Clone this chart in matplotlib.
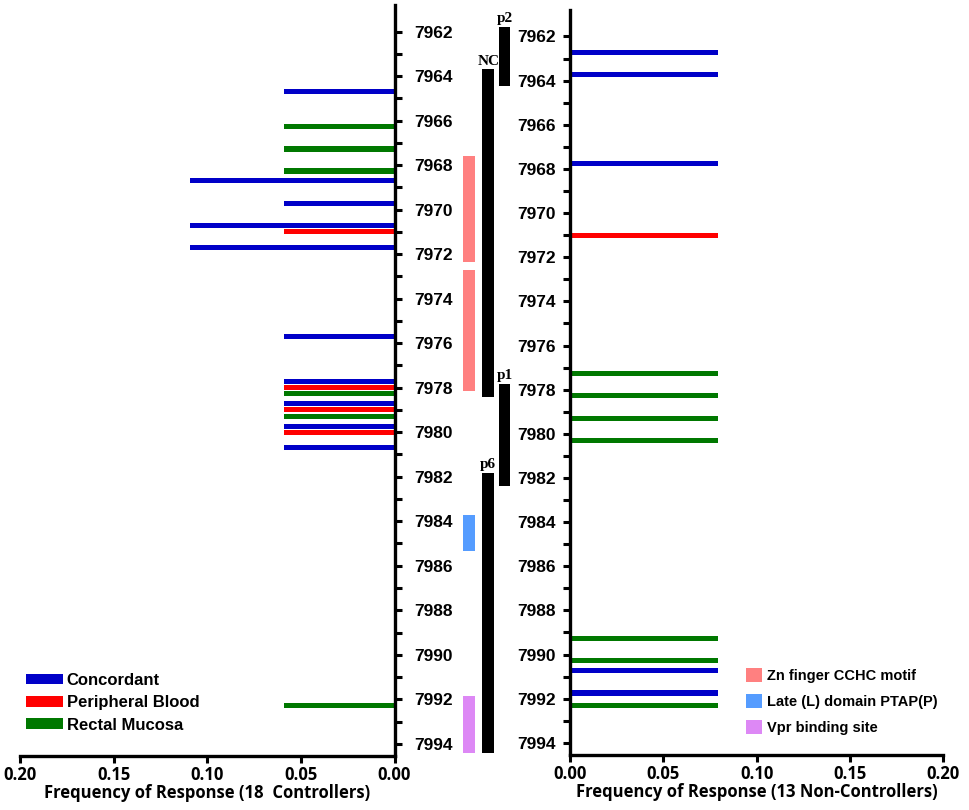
import matplotlib.pyplot as plt
from matplotlib.patches import Patch

# positions along the genome and frequency of response
ctrl_conc_pos = [7964.7, 7968.7, 7969.72, 7970.69, 7971.69, 7975.71, 7977.71, 7978.71, 7979.73, 7980.7]
ctrl_conc_freq = [0.059, 0.109, 0.059, 0.109, 0.109, 0.059, 0.059, 0.059, 0.059, 0.059]
ctrl_pb_pos = [7970.99, 7977.98, 7978.98, 7980.0]
ctrl_pb_freq = [0.059, 0.059, 0.059, 0.059]
ctrl_rm_pos = [7966.27, 7967.27, 7968.26, 7978.26, 7979.28, 7992.27]
ctrl_rm_freq = [0.059, 0.059, 0.059, 0.059, 0.059, 0.059]

nonc_conc_pos = [7962.71, 7963.72, 7967.75, 7990.73, 7991.74]
nonc_conc_freq = [0.0795, 0.0795, 0.0795, 0.0795, 0.0795]
nonc_pb_pos = [7971.0]
nonc_pb_freq = [0.0795]
nonc_rm_pos = [7977.28, 7978.28, 7979.3, 7980.31, 7989.27, 7990.28, 7992.3]
nonc_rm_freq = [0.0795, 0.0795, 0.0795, 0.0795, 0.0795, 0.0795, 0.0795]

# protein / motif regions (start, end)
protein_names = ["NC", "p2", "p1", "p6"]
protein_start = [7963.69, 7961.8, 7977.84, 7981.81]
protein_end = [7978.41, 7964.44, 7982.43, 7994.4]

motif_names = ["Zn finger CCHC motif", "Zn finger CCHC motif", "Late (L) domain PTAP(P)", "Vpr binding site"]
motif_start = [7967.6, 7972.71, 7983.7, 7991.86]
motif_end = [7972.36, 7978.14, 7985.35, 7994.4]

group_names = ["Concordant", "Peripheral Blood", "Rectal Mucosa"]
legend_motifs = ["Zn finger CCHC motif", "Late (L) domain PTAP(P)", "Vpr binding site"]

xticks = [0.0, 0.05, 0.10, 0.15, 0.20]
xticklabels = ["0.00", "0.05", "0.10", "0.15", "0.20"]
yticks = list(range(7962, 7995))

c_conc = "#0000C8"
c_pb = "#FF0000"
c_rm = "#007800"
motif_colors = {"Zn finger CCHC motif": "#FF8080",
                "Late (L) domain PTAP(P)": "#559CFF",
                "Vpr binding site": "#DD88F5"}

W, H = 969, 810
fig = plt.figure(figsize=(W / 100, H / 100), dpi=100)

def px(x0, y0, x1, y1):
    return [x0 / W, 1 - y1 / H, (x1 - x0) / W, (y1 - y0) / H]

ax_l = fig.add_axes(px(20, 5, 394.5, 756))
ax_r = fig.add_axes(px(570, 10, 943.3, 755))
ax_m = fig.add_axes(px(455, 5, 520, 756))

ylim = (7994.55, 7960.8)
bh = 0.23

ax_l.barh(ctrl_conc_pos, ctrl_conc_freq, height=bh, color=c_conc)
ax_l.barh(ctrl_rm_pos, ctrl_rm_freq, height=bh, color=c_rm)
ax_l.barh(ctrl_pb_pos, ctrl_pb_freq, height=bh, color=c_pb)

ax_r.barh(nonc_conc_pos, nonc_conc_freq, height=bh, color=c_conc)
ax_r.barh(nonc_rm_pos, nonc_rm_freq, height=bh, color=c_rm)
ax_r.barh(nonc_pb_pos, nonc_pb_freq, height=bh, color=c_pb)

tick_font = dict(family="Liberation Sans", weight="bold", size=12.5)
xfont = dict(family="Open Sans", weight="bold", size=12)

for ax, side in [(ax_l, "right"), (ax_r, "left")]:
    ax.set_ylim(ylim)
    for s in ax.spines.values():
        s.set_visible(False)
    ax.spines[side].set_visible(True)
    ax.spines["bottom"].set_visible(True)
    ax.spines[side].set_linewidth(2.4)
    ax.spines["bottom"].set_linewidth(2.4)
    ax.set_yticks(yticks)
    ax.set_yticklabels([str(t) if t % 2 == 0 else "" for t in yticks], fontdict=tick_font)
    ax.set_xticks(xticks)
    ax.set_xticklabels(xticklabels, fontdict=xfont)
    ax.tick_params(axis="both", direction="out", length=5, width=2.2)
    ax.tick_params(axis="x", pad=2)

ax_l.set_xlim(0.2, 0)
ax_l.yaxis.tick_right()
ax_l.tick_params(axis="y", pad=9)
ax_r.set_xlim(0, 0.2)
ax_r.tick_params(axis="y", pad=5)

ax_l.set_xlabel("Frequency of Response (18  Controllers)", fontdict=xfont, labelpad=0)
ax_r.set_xlabel("Frequency of Response (13 Non-Controllers)", fontdict=xfont, labelpad=0)

# middle column: motifs and protein regions
ax_m.set_ylim(ylim)
ax_m.set_xlim(0, 65)
ax_m.axis("off")
motif_x = 14.2
protein_x = {"NC": 33.2, "p6": 33.2, "p2": 49.6, "p1": 49.6}
for name, a, b in zip(motif_names, motif_start, motif_end):
    ax_m.bar(motif_x, b - a, bottom=a, width=11.5, color=motif_colors[name])
for name, a, b in zip(protein_names, protein_start, protein_end):
    ax_m.bar(protein_x[name], b - a, bottom=a, width=11.5, color="black")
    ax_m.text(protein_x[name], a - 0.08, name, ha="center", va="bottom",
              family="Liberation Serif", weight="bold", size=11)

leg_font = dict(family="Liberation Sans", weight="bold", size=12)
handles = [Patch(facecolor=c, edgecolor="none") for c in [c_conc, c_pb, c_rm]]
ax_l.legend(handles, group_names, loc="upper left", bbox_to_anchor=(26 / W, 1 - 673 / H),
            bbox_transform=fig.transFigure, frameon=False, prop=leg_font,
            handlelength=2.2, handleheight=0.6, handletextpad=0.25,
            labelspacing=0.44, borderpad=0, borderaxespad=0)

handles2 = [Patch(facecolor=motif_colors[m], edgecolor="none") for m in legend_motifs]
leg_font2 = dict(family="Liberation Sans", weight="bold", size=10.5)
ax_r.legend(handles2, legend_motifs, loc="upper left", bbox_to_anchor=(746 / W, 1 - 668 / H),
            bbox_transform=fig.transFigure, frameon=False, prop=leg_font2,
            handlelength=1.1, handleheight=1.1, handletextpad=0.35,
            labelspacing=0.75, borderpad=0, borderaxespad=0)

fig.savefig("out.png", dpi=100)
